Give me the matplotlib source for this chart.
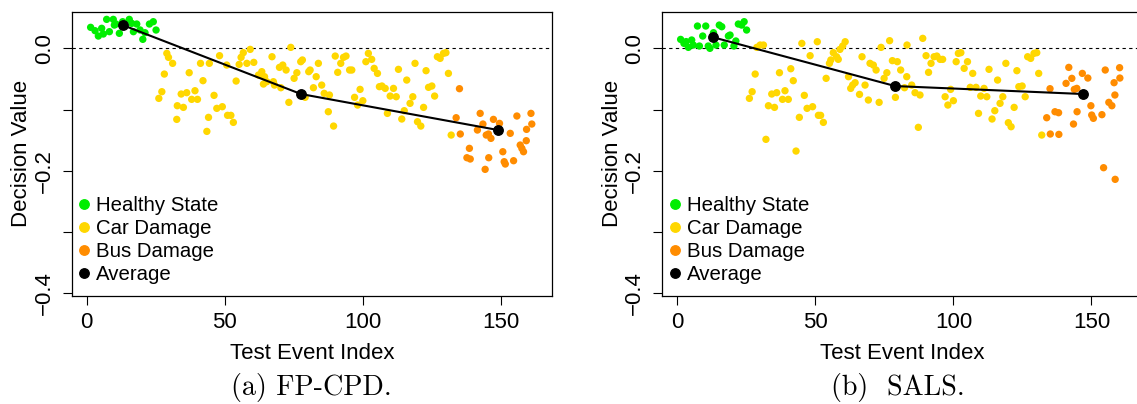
import matplotlib
matplotlib.use("Agg")
import matplotlib.pyplot as plt
from matplotlib.lines import Line2D

plt.rcParams['font.family'] = ['Liberation Sans', 'DejaVu Sans']

# ---- (a) FP-CPD ----
a_healthy_x = [1.4, 3.0, 4.2, 5.4, 6.0, 7.2, 8.2, 9.6, 10.0, 10.6, 11.8, 13.0, 15.4, 16.3, 16.9,
               18.1, 19.3, 20.3, 21.1, 22.7, 24.1, 25.1]
a_healthy_y = [0.0343, 0.0288, 0.0201, 0.0327, 0.0234, 0.0473, 0.0272, 0.0473, 0.038, 0.0397,
               0.0245, 0.0435, 0.0473, 0.0408, 0.0272, 0.0397, 0.030, 0.0147, 0.0255, 0.0397,
               0.0435, 0.0299]

a_car_x = [29.0, 29.6, 31.1, 28.1, 27.2, 26.1, 32.8, 32.6, 34.2, 35.0, 36.2, 37.1, 38.0, 39.2,
           40.1, 41.2, 42.1, 43.5, 44.1, 44.4, 46.1, 47.1, 48.1, 49.1, 50.7, 51.0, 52.2, 53.1,
           54.1, 55.2, 55.9, 56.7, 58.0, 59.2, 60.5, 62.2, 63.4, 64.0, 64.4, 65.2, 67.1, 67.6,
           68.0, 69.8, 70.3, 71.0, 72.2, 73.2, 73.9, 75.1, 76.1, 77.5, 78.1, 79.1, 80.4, 80.9,
           82.1, 83.1, 83.9, 85.1, 86.0, 87.9, 87.5, 89.4, 90.0, 90.9, 92.0, 93.0, 93.9, 95.2,
           96.0, 97.0, 98.1, 99.0, 100.0, 101.1, 102.0, 103.2, 104.1, 105.3, 106.0, 106.9, 108.1,
           108.9, 109.9, 111.1, 112.1, 112.9, 114.1, 115.0, 115.9, 117.1, 118.1, 118.9, 119.8,
           121.0, 122.0, 122.9, 123.8, 125.0, 126.0, 127.0, 128.0, 129.2, 130.1, 131.0, 132.0]
a_car_y = [-0.0082, -0.0147, -0.0245, -0.042, -0.0708, -0.0817, -0.0937, -0.116, -0.0746, -0.0964,
           -0.0724, -0.0398, -0.0833, -0.0692, -0.0833, -0.0245, -0.0528, -0.1356, -0.1127, -0.0245,
           -0.0768, -0.098, -0.012, -0.0953, -0.0273, -0.1094, -0.1094, -0.1209, -0.0534, -0.0262,
           -0.0147, -0.0071, -0.0245, -0.0017, -0.0229, -0.0436, -0.0381, -0.0583, -0.0463, -0.0545,
           -0.0137, -0.0545, -0.060, -0.0311, -0.0643, -0.0273, -0.0354, -0.0882, 0.0016, -0.049,
           -0.0398, -0.0218, -0.019, -0.080, -0.0381, -0.0354, -0.0643, -0.0463, -0.0245, -0.060,
           -0.0735, -0.0762, -0.1035, -0.1269, -0.0126, -0.0392, -0.0245, -0.0147, -0.0126, -0.0354,
           -0.0354, -0.080, -0.0926, -0.067, -0.0855, -0.0218, -0.0082, -0.018, -0.0327, -0.0409,
           -0.0626, -0.0615, -0.0654, -0.1062, -0.0779, -0.0654, -0.079, -0.0343, -0.1154, -0.1018,
           -0.0518, -0.0898, -0.079, -0.0245, -0.1198, -0.1269, -0.0964, -0.0365, -0.0637, -0.0615,
           -0.0779, -0.0137, -0.0164, -0.0082, -0.0071, -0.0409, -0.1416]

a_bus_x = [133.8, 135.0, 135.3, 137.7, 138.6, 138.9, 141.5, 142.5, 143.5, 144.3, 144.7, 145.5,
           145.6, 146.4, 147.3, 149.5, 150.7, 151.2, 151.6, 153.4, 154.6, 155.8, 157.0, 157.6,
           158.2, 159.2, 159.3, 160.9, 161.2]
a_bus_y = [-0.1133, -0.0659, -0.1399, -0.1786, -0.1633, -0.1807, -0.1334, -0.1062, -0.1236, -0.1976,
           -0.1416, -0.1399, -0.1786, -0.147, -0.116, -0.1225, -0.1688, -0.1851, -0.1889, -0.1388,
           -0.1835, -0.1105, -0.1579, -0.1633, -0.1688, -0.1508, -0.1323, -0.1062, -0.1236]

a_avg_x = [13.0, 77.6, 149.0]
a_avg_y = [0.038, -0.0746, -0.1334]

# ---- (b) SALS ----
b_healthy_x = [1.2, 2.4, 3.2, 4.0, 5.2, 5.8, 7.3, 8.0, 9.2, 10.3, 11.2, 11.8, 13.1, 14.0, 15.2,
               16.1, 17.0, 18.5, 19.1, 20.5, 21.2, 22.1, 23.3, 24.2, 25.1]
b_healthy_y = [0.0146, 0.0081, 0.011, 0.0016, 0.0136, 0.0054, 0.0364, 0.0038, 0.0201, 0.0364,
               0.0038, 0.0, 0.0255, 0.0054, 0.038, 0.0353, 0.0054, 0.0201, 0.0217, 0.0038,
               0.012, 0.0397, 0.038, 0.0435, 0.0299]

b_car_x = [28.8, 30.0, 31.2, 28.2, 27.1, 26.1, 32.1, 33.0, 34.2, 35.2, 36.0, 37.0, 38.1, 39.0,
           40.2, 41.1, 42.0, 43.0, 44.2, 45.1, 46.0, 47.0, 48.1, 49.0, 50.7, 51.1, 51.9, 52.9,
           53.9, 55.1, 55.6, 56.5, 57.7, 58.3, 58.9, 59.9, 60.8, 62.0, 62.8, 63.5, 64.4, 66.0,
           66.9, 68.0, 69.2, 69.8, 71.0, 72.0, 73.1, 73.8, 74.9, 75.9, 76.9, 77.9, 79.0, 79.7,
           80.9, 82.3, 83.1, 83.2, 84.9, 86.1, 87.9, 87.3, 88.9, 90.1, 91.0, 91.9, 93.0, 94.0,
           95.2, 96.1, 97.0, 98.0, 99.0, 100.0, 101.0, 101.8, 102.7, 103.9, 105.1, 106.1, 107.0,
           108.2, 109.1, 109.9, 111.1, 112.1, 112.9, 114.0, 115.0, 116.0, 116.9, 117.9, 119.0,
           119.9, 120.9, 122.0, 123.0, 123.7, 124.9, 126.0, 126.9, 128.0, 129.2, 130.2, 130.9,
           132.0]
b_car_y = [0.0016, 0.0054, 0.0054, -0.042, -0.0708, -0.0817, -0.1486, -0.0937, -0.0746, -0.0964,
           -0.0724, -0.0398, -0.0833, -0.0692, -0.0833, -0.0333, -0.0528, -0.1677, -0.1127, 0.0081,
           -0.0768, -0.098, -0.012, -0.0953, 0.0108, -0.1094, -0.1094, -0.1209, -0.049, -0.0245,
           -0.019, -0.0071, -0.0137, -0.018, -0.0017, 0.0038, 0.0108, -0.0463, -0.0654, -0.060,
           -0.0561, -0.0752, -0.0137, -0.060, -0.0844, -0.0245, -0.0273, -0.0354, -0.0882, 0.0016,
           -0.049, -0.0398, 0.0125, -0.0201, -0.080, -0.0218, -0.0354, -0.0643, -0.0463, 0.0054,
           -0.060, -0.0724, -0.0762, -0.129, 0.0163, -0.012, -0.0392, -0.0245, -0.0137, -0.0126,
           -0.018, -0.018, -0.079, -0.0926, -0.067, -0.0855, -0.0218, -0.0082, -0.0071, -0.0327,
           -0.0218, -0.0637, -0.0409, -0.0637, -0.1062, -0.0779, -0.0654, -0.079, -0.0343, -0.1154,
           -0.1018, -0.0518, -0.0898, -0.079, -0.0245, -0.1214, -0.128, -0.0964, -0.0365, -0.0626,
           -0.0615, -0.079, -0.0137, -0.0164, -0.0082, -0.0071, -0.0409, -0.1416]

b_bus_x = [133.8, 135.0, 135.1, 136.8, 138.1, 138.2, 140.8, 141.8, 142.9, 143.5, 143.8, 144.7,
           144.8, 146.7, 148.7, 149.8, 150.1, 150.7, 153.8, 154.4, 155.0, 156.3, 157.4, 158.2,
           158.5, 158.6, 160.2, 160.3]
b_bus_y = [-0.1133, -0.0659, -0.1399, -0.1035, -0.1051, -0.1405, -0.0572, -0.0311, -0.049, -0.1236,
           -0.067, -0.0654, -0.1035, -0.0409, -0.0485, -0.0937, -0.1089, -0.1143, -0.1083, -0.1949,
           -0.0354, -0.0882, -0.0937, -0.0561, -0.0762, -0.2139, -0.0316, -0.0485]

b_avg_x = [13.1, 78.9, 147.1]
b_avg_y = [0.0179, -0.0616, -0.0746]

labels = ['Healthy State', 'Car Damage', 'Bus Damage', 'Average']
colors = ['#00EE00', '#FFD700', '#FF8C00', 'black']
y_ticks = [-0.4, -0.3, -0.2, -0.1, 0.0]
y_ticklabels = ['\u22120.4', '', '\u22120.2', '', '0.0']
x_ticks = [0, 50, 100, 150]

fig = plt.figure(figsize=(11.37, 4.04), dpi=100)

panels = [
    (0.0631, a_healthy_x, a_healthy_y, a_car_x, a_car_y, a_bus_x, a_bus_y, a_avg_x, a_avg_y, '(a) FP-CPD.', 0.274),
    (0.5825, b_healthy_x, b_healthy_y, b_car_x, b_car_y, b_bus_x, b_bus_y, b_avg_x, b_avg_y, '(b)  SALS.', 0.790),
]

for left, hx, hy, cx, cy, bx, by, ax_, ay_, caption, cap_x in panels:
    ax = fig.add_axes([left, 0.2673, 0.4222, 0.7037])
    ax.axhline(0, color='black', lw=0.8, ls=(0, (3, 3)), zorder=1)
    ax.scatter(hx, hy, s=28, color=colors[0], edgecolors='none', zorder=2)
    ax.scatter(cx, cy, s=28, color=colors[1], edgecolors='none', zorder=2)
    ax.scatter(bx, by, s=28, color=colors[2], edgecolors='none', zorder=2)
    ax.plot(ax_, ay_, color='black', lw=1.5, marker='o', ms=6.8, zorder=3)

    ax.set_xlim(-5.44, 168.44)
    ax.set_ylim(-0.4044, 0.0598)
    ax.set_xticks(x_ticks)
    ax.set_xticklabels([str(t) for t in x_ticks], fontsize=16)
    ax.set_yticks(y_ticks)
    ax.set_yticklabels(y_ticklabels, fontsize=16, rotation=90, va='center')
    ax.tick_params(axis='x', length=6.5, width=0.8, pad=5)
    ax.tick_params(axis='y', length=6.3, width=0.8, pad=6)
    for sp in ax.spines.values():
        sp.set_linewidth(0.9)
    ax.set_xlabel('Test Event Index', fontsize=16, labelpad=7)
    ax.set_ylabel('Decision Value', fontsize=16, labelpad=1)

    handles = [Line2D([], [], ls='none', marker='o', ms=6.8, color=c) for c in colors]
    ax.legend(handles, labels, loc='upper left', bbox_to_anchor=(0.0, 0.365), frameon=False,
              fontsize=14.7, handlelength=0.8, handletextpad=0.2, labelspacing=0.19,
              borderaxespad=0, borderpad=0.2)

    fig.text(cap_x, 0.042, caption, fontsize=20.2, family='cmr10', ha='center', va='center')

fig.savefig('out.png', dpi=100)
